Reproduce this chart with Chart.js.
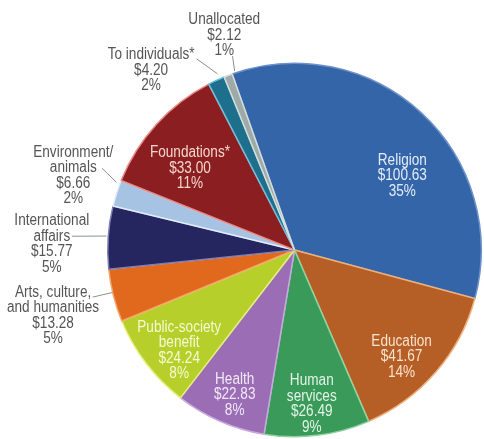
<!DOCTYPE html>
<html>
<head>
<meta charset="utf-8">
<script src="https://cdn.jsdelivr.net/npm/chart.js@4/dist/chart.umd.min.js"></script>
<style>
  html, body { margin: 0; padding: 0; background: #fff; }
  #wrap { position: relative; width: 484px; height: 439px; }
</style>
</head>
<body>
<div id="wrap"><canvas id="givingChart"></canvas></div>
<script>
const categories = ["Religion", "Education", "Human services", "Health", "Public-society benefit",
  "Arts, culture, and humanities", "International affairs", "Environment/animals",
  "Foundations*", "To individuals*", "Unallocated"];
const amounts = [100.63, 41.67, 26.49, 22.83, 24.24, 13.28, 15.77, 6.66, 33.00, 4.20, 2.12];
const percents = [35, 14, 9, 8, 8, 5, 5, 2, 11, 2, 1];
const labelLines = [["Religion"], ["Education"], ["Human", "services"], ["Health"],
  ["Public-society", "benefit"], ["Arts, culture,", "and humanities"], ["International", "affairs"],
  ["Environment/", "animals"], ["Foundations*"], ["To individuals*"], ["Unallocated"]];

const sliceColors = ["#3465a9", "#b55e26", "#3a9a5a", "#9a6db5", "#b6cf2a", "#e0691e",
  "#25255f", "#a7c3e3", "#8a1e20", "#1d6f8c", "#9eaaa8"];
const edgeColors = ["#6f93c8", "#f0b07a", "#8fd2a0", "#c9a8e0", "#e4f07a", "#f6a66a",
  "#7d7db8", "#e4eefa", "#e88a86", "#6cc0dc", "#d6dedc"];
const textColors = ["#e3edf8", "#fbe2cc", "#e2f4e6", "#f1e8f7", "#f6fad2", "#555555",
  "#555555", "#555555", "#f6d6cc", "#555555", "#555555"];

// label anchor: [degrees away from slice middle, distance as share of radius]
const labelPlace = [[12.8, 0.70], [4.1, 0.81], [0.6, 0.83], [-1.1, 0.84], [-3.8, 0.82],
  [-1.1, 1.34], [-2.5, 1.30], [0.9, 1.25], [-4.3, 0.71], [-13.9, 1.23], [2.7, 1.21]];
// leader lines for outside labels: [deg1, share1, deg2, share2]
const leaders = [null, null, null, null, null,
  [1.0, 1.0, 1.0, 1.11], [0.4, 1.01, -0.3, 1.195], [3.1, 1.02, 5.3, 1.12],
  null, [1.1, 1.03, -2.4, 1.15], [2.3, 1.01, 3.1, 1.09]];

// condensed look: Liberation Sans squeezed horizontally
const labelFont = "16px 'Liberation Sans', Arial, sans-serif";
const squeeze = 0.85;
const lineHeight = 15.5;

const sliceLabels = {
  id: "sliceLabels",
  afterDatasetsDraw(chart) {
    const ctx = chart.ctx;
    const arcs = chart.getDatasetMeta(0).data;
    ctx.save();
    ctx.font = labelFont;
    ctx.textAlign = "center";
    ctx.textBaseline = "middle";

    arcs.forEach((arc, i) => {
      const { x, y, startAngle, endAngle, outerRadius } =
        arc.getProps(["x", "y", "startAngle", "endAngle", "outerRadius"], true);
      const mid = (startAngle + endAngle) / 2;
      const at = (deg, share) => {
        const a = mid + deg * Math.PI / 180;
        return [x + Math.cos(a) * outerRadius * share, y + Math.sin(a) * outerRadius * share];
      };

      const lead = leaders[i];
      if (lead) {
        const [x1, y1] = at(lead[0], lead[1]);
        const [x2, y2] = at(lead[2], lead[3]);
        ctx.strokeStyle = "#8a8f92";
        ctx.lineWidth = 1;
        ctx.beginPath();
        ctx.moveTo(x1, y1);
        ctx.lineTo(x2, y2);
        ctx.stroke();
      }

      const [tx, ty] = at(labelPlace[i][0], labelPlace[i][1]);
      const lines = [...labelLines[i], "$" + amounts[i].toFixed(2), percents[i] + "%"];
      ctx.fillStyle = textColors[i];
      lines.forEach((line, k) => {
        ctx.save();
        ctx.translate(tx, ty + (k - (lines.length - 1) / 2) * lineHeight);
        ctx.scale(squeeze, 1);
        ctx.fillText(line, 0, 0);
        ctx.restore();
      });
    });
    ctx.restore();
  }
};

new Chart(document.getElementById("givingChart").getContext("2d"), {
  type: "pie",
  data: {
    labels: categories,
    datasets: [{
      data: amounts,
      backgroundColor: sliceColors,
      borderColor: edgeColors,
      borderWidth: 1.5
    }]
  },
  options: {
    responsive: true,
    maintainAspectRatio: false,
    animation: false,
    rotation: -19.5,
    layout: { padding: { left: 107, right: 2, top: 62, bottom: 1 } },
    plugins: {
      legend: { display: false },
      tooltip: { enabled: false }
    }
  },
  plugins: [sliceLabels]
});
</script>
</body>
</html>
